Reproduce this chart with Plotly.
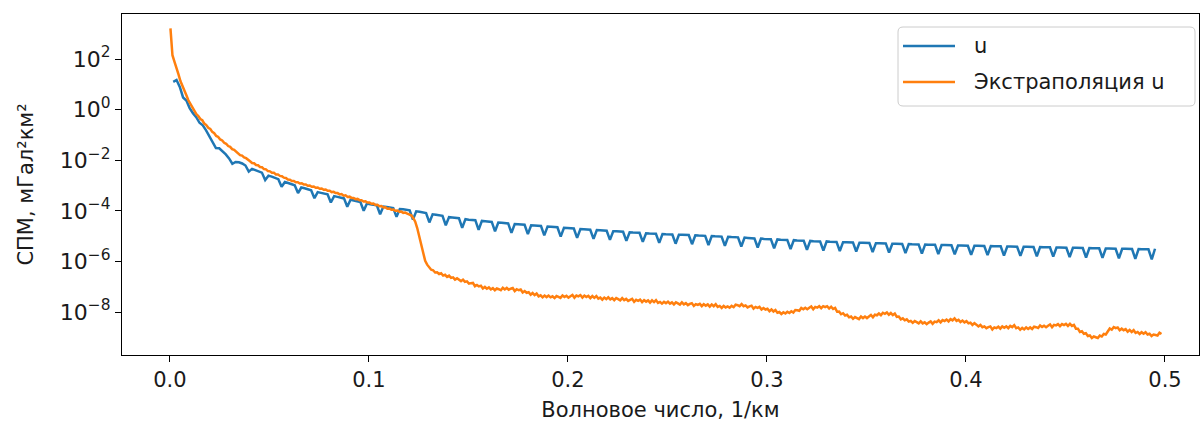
import plotly.graph_objects as go

# ---- data ----
# wavenumber grid steps (1/km)
u_step = 0.00165
extrap_start = 0.00025
extrap_step = 0.001

# log10 of spectral power density, series "u"
u_log10 = [
    1.10, 1.17, 0.90, 0.48, 0.36,
    0.06, -0.14, -0.30, -0.52, -0.62,
    -0.82, -1.05, -1.28, -1.52, -1.53,
    -1.65, -1.77, -1.93, -2.14, -2.07,
    -2.08, -2.13, -2.21, -2.45, -2.34,
    -2.39, -2.44, -2.49, -2.78, -2.61,
    -2.65, -2.70, -2.75, -3.05, -2.86,
    -2.90, -2.95, -2.99, -3.30, -3.08,
    -3.11, -3.15, -3.19, -3.50, -3.26,
    -3.29, -3.32, -3.35, -3.67, -3.42,
    -3.45, -3.48, -3.51, -3.84, -3.56,
    -3.59, -3.62, -3.65, -4.00, -3.71,
    -3.74, -3.76, -3.78, -4.14, -3.83,
    -3.85, -3.87, -3.89, -4.24, -3.93,
    -3.94, -3.96, -3.98, -4.35, -4.02,
    -4.04, -4.07, -4.09, -4.46, -4.14,
    -4.16, -4.18, -4.20, -4.57, -4.25,
    -4.26, -4.28, -4.29, -4.67, -4.33,
    -4.35, -4.36, -4.37, -4.75, -4.40,
    -4.41, -4.42, -4.44, -4.81, -4.46,
    -4.47, -4.48, -4.50, -4.87, -4.52,
    -4.53, -4.54, -4.55, -4.92, -4.57,
    -4.58, -4.59, -4.60, -4.97, -4.62,
    -4.63, -4.64, -4.65, -5.02, -4.67,
    -4.68, -4.69, -4.70, -5.07, -4.72,
    -4.73, -4.74, -4.75, -5.11, -4.76,
    -4.77, -4.78, -4.79, -5.15, -4.81,
    -4.81, -4.82, -4.83, -5.19, -4.85,
    -4.86, -4.86, -4.87, -5.23, -4.89,
    -4.90, -4.90, -4.91, -5.27, -4.92,
    -4.93, -4.93, -4.94, -5.30, -4.95,
    -4.95, -4.96, -4.96, -5.32, -4.97,
    -4.98, -4.98, -4.99, -5.35, -5.00,
    -5.01, -5.01, -5.02, -5.38, -5.03,
    -5.04, -5.04, -5.05, -5.41, -5.06,
    -5.07, -5.08, -5.09, -5.45, -5.10,
    -5.11, -5.12, -5.12, -5.48, -5.13,
    -5.14, -5.15, -5.15, -5.51, -5.16,
    -5.17, -5.18, -5.18, -5.54, -5.19,
    -5.20, -5.20, -5.21, -5.57, -5.21,
    -5.22, -5.22, -5.23, -5.59, -5.24,
    -5.24, -5.25, -5.25, -5.61, -5.26,
    -5.26, -5.27, -5.27, -5.63, -5.28,
    -5.28, -5.29, -5.29, -5.65, -5.30,
    -5.30, -5.30, -5.31, -5.67, -5.31,
    -5.32, -5.32, -5.33, -5.69, -5.33,
    -5.34, -5.34, -5.34, -5.71, -5.35,
    -5.35, -5.36, -5.36, -5.72, -5.37,
    -5.37, -5.37, -5.38, -5.74, -5.38,
    -5.38, -5.39, -5.39, -5.75, -5.39,
    -5.40, -5.40, -5.40, -5.77, -5.41,
    -5.41, -5.41, -5.42, -5.78, -5.42,
    -5.42, -5.43, -5.43, -5.80, -5.43,
    -5.44, -5.44, -5.44, -5.81, -5.45,
    -5.45, -5.45, -5.46, -5.83, -5.46,
    -5.46, -5.47, -5.47, -5.85, -5.47,
    -5.48, -5.48, -5.48, -5.86, -5.49,
    -5.49, -5.49, -5.50, -5.88, -5.50,
    -5.50, -5.51, -5.51, -5.90, -5.51,
    -5.52, -5.52, -5.52, -5.92, -5.50,
]

# log10 of spectral power density, series "Экстраполяция u"
extrap_log10 = [
    3.21, 2.15, 1.90, 1.60, 1.40, 1.13, 0.96, 0.74, 0.57, 0.37,
    0.23, 0.05, -0.04, -0.18, -0.25, -0.37, -0.42, -0.55, -0.61, -0.72,
    -0.76, -0.88, -0.93, -1.04, -1.08, -1.18, -1.22, -1.31, -1.35, -1.44,
    -1.47, -1.56, -1.59, -1.67, -1.71, -1.80, -1.82, -1.89, -1.92, -2.00,
    -2.04, -2.11, -2.12, -2.19, -2.20, -2.27, -2.28, -2.35, -2.36, -2.43,
    -2.44, -2.50, -2.50, -2.56, -2.56, -2.62, -2.63, -2.69, -2.70, -2.76,
    -2.77, -2.82, -2.82, -2.87, -2.87, -2.92, -2.91, -2.96, -2.96, -3.01,
    -3.00, -3.05, -3.04, -3.09, -3.08, -3.13, -3.12, -3.17, -3.16, -3.21,
    -3.21, -3.26, -3.25, -3.30, -3.30, -3.35, -3.34, -3.40, -3.39, -3.45,
    -3.44, -3.49, -3.49, -3.54, -3.53, -3.58, -3.58, -3.63, -3.62, -3.67,
    -3.67, -3.72, -3.71, -3.77, -3.76, -3.82, -3.81, -3.87, -3.86, -3.92,
    -3.91, -3.96, -3.95, -4.00, -3.99, -4.04, -4.03, -4.08, -4.07, -4.11,
    -4.13, -4.18, -4.28, -4.43, -4.68, -5.02, -5.42, -5.74, -5.98, -6.13,
    -6.21, -6.33, -6.35, -6.44, -6.43, -6.50, -6.47, -6.56, -6.53, -6.61,
    -6.56, -6.65, -6.63, -6.72, -6.67, -6.72, -6.78, -6.72, -6.81, -6.79,
    -6.88, -6.86, -6.85, -6.98, -6.93, -6.99, -6.96, -7.07, -7.01, -7.08,
    -7.03, -7.11, -7.06, -7.14, -7.07, -7.10, -7.14, -7.04, -7.11, -7.05,
    -7.12, -7.08, -7.05, -7.17, -7.10, -7.14, -7.11, -7.23, -7.17, -7.24,
    -7.22, -7.32, -7.25, -7.33, -7.27, -7.38, -7.34, -7.42, -7.35, -7.41,
    -7.35, -7.42, -7.38, -7.45, -7.37, -7.40, -7.44, -7.35, -7.41, -7.36,
    -7.43, -7.38, -7.33, -7.44, -7.35, -7.38, -7.33, -7.43, -7.35, -7.41,
    -7.36, -7.45, -7.37, -7.44, -7.37, -7.47, -7.43, -7.51, -7.43, -7.49,
    -7.42, -7.50, -7.45, -7.53, -7.45, -7.49, -7.54, -7.45, -7.53, -7.48,
    -7.56, -7.52, -7.48, -7.60, -7.52, -7.56, -7.51, -7.61, -7.53, -7.59,
    -7.54, -7.63, -7.54, -7.61, -7.53, -7.64, -7.60, -7.67, -7.60, -7.65,
    -7.59, -7.67, -7.62, -7.70, -7.62, -7.66, -7.71, -7.62, -7.70, -7.65,
    -7.73, -7.68, -7.65, -7.76, -7.69, -7.72, -7.68, -7.77, -7.69, -7.75,
    -7.70, -7.79, -7.70, -7.77, -7.69, -7.80, -7.76, -7.84, -7.76, -7.82,
    -7.78, -7.83, -7.76, -7.81, -7.71, -7.73, -7.77, -7.69, -7.77, -7.74,
    -7.82, -7.78, -7.75, -7.87, -7.80, -7.84, -7.80, -7.90, -7.84, -7.90,
    -7.87, -7.97, -7.90, -7.98, -7.92, -8.03, -8.00, -8.08, -8.01, -8.06,
    -7.99, -8.04, -7.97, -8.02, -7.92, -7.93, -7.95, -7.84, -7.89, -7.83,
    -7.89, -7.83, -7.78, -7.89, -7.80, -7.83, -7.77, -7.85, -7.77, -7.81,
    -7.77, -7.86, -7.79, -7.88, -7.84, -7.99, -7.98, -8.09, -8.05, -8.14,
    -8.11, -8.21, -8.18, -8.27, -8.20, -8.24, -8.28, -8.18, -8.24, -8.18,
    -8.24, -8.18, -8.12, -8.21, -8.11, -8.13, -8.06, -8.13, -8.03, -8.07,
    -8.02, -8.11, -8.04, -8.12, -8.06, -8.19, -8.18, -8.29, -8.25, -8.33,
    -8.29, -8.38, -8.35, -8.43, -8.36, -8.40, -8.45, -8.37, -8.45, -8.41,
    -8.48, -8.42, -8.37, -8.47, -8.38, -8.40, -8.33, -8.41, -8.32, -8.36,
    -8.30, -8.37, -8.28, -8.33, -8.25, -8.35, -8.31, -8.40, -8.34, -8.41,
    -8.36, -8.45, -8.42, -8.51, -8.44, -8.50, -8.57, -8.51, -8.60, -8.57,
    -8.64, -8.60, -8.57, -8.69, -8.61, -8.64, -8.58, -8.66, -8.57, -8.62,
    -8.57, -8.64, -8.55, -8.60, -8.52, -8.64, -8.61, -8.70, -8.63, -8.69,
    -8.61, -8.67, -8.61, -8.67, -8.58, -8.60, -8.63, -8.53, -8.59, -8.54,
    -8.60, -8.54, -8.49, -8.60, -8.51, -8.53, -8.48, -8.56, -8.48, -8.52,
    -8.47, -8.55, -8.47, -8.55, -8.51, -8.66, -8.66, -8.79, -8.76, -8.86,
    -8.84, -8.95, -8.93, -9.03, -8.97, -9.00, -9.03, -8.93, -8.97, -8.87,
    -8.89, -8.77, -8.65, -8.70, -8.60, -8.64, -8.61, -8.72, -8.66, -8.72,
    -8.68, -8.78, -8.71, -8.79, -8.72, -8.83, -8.79, -8.87, -8.80, -8.86,
    -8.80, -8.89, -8.86, -8.95, -8.89, -8.91, -8.93, -8.82, -8.87,
]

series_names = ["u", "Экстраполяция u"]
series_colors = ["#1f77b4", "#ff7f0e"]

x_tick_vals = [0.0, 0.1, 0.2, 0.3, 0.4, 0.5]
x_tick_text = ["0.0", "0.1", "0.2", "0.3", "0.4", "0.5"]
y_tick_vals = [1e2, 1e0, 1e-2, 1e-4, 1e-6, 1e-8]
y_tick_text = ["10<sup>2</sup>", "10<sup>0</sup>", "10<sup>−2</sup>",
               "10<sup>−4</sup>", "10<sup>−6</sup>", "10<sup>−8</sup>"]

x_title = "Волновое число, 1/км"
y_title = "СПМ, мГал²км²"

# ---- layout geometry (pixels) ----
W, H = 1200, 425
L, R, T, B = 122, 1, 14, 70
PW, PH = W - L - R, H - T - B


def px(x):
    return (x - L) / PW


def py(y):
    return (H - B - y) / PH


# ---- build ----
u_k = [u_step * (i + 1) for i in range(len(u_log10))]
u_val = [10 ** v for v in u_log10]
ex_k = [extrap_start + extrap_step * i for i in range(len(extrap_log10))]
ex_val = [10 ** v for v in extrap_log10]

FONT = "DejaVu Sans"
FS = 21
TXT = "#1a1a1a"

fig = go.Figure()
fig.add_trace(go.Scatter(x=u_k, y=u_val, mode="lines", name=series_names[0],
                         showlegend=False,
                         line=dict(color=series_colors[0], width=2.5)))
fig.add_trace(go.Scatter(x=ex_k, y=ex_val, mode="lines", name=series_names[1],
                         showlegend=False,
                         line=dict(color=series_colors[1], width=2.5)))

axis_common = dict(
    showline=True, linecolor="black", linewidth=1.2, mirror=True,
    ticks="outside", ticklen=6, tickwidth=1.2, tickcolor="black",
    showgrid=False, zeroline=False,
)

# legend drawn as a rounded box with line samples and labels
bx0, bx1, by0, by1, rad = 898, 1195, 27, 106, 5
rx, ry = rad / PW, rad / PH
X0, X1, Y0, Y1 = px(bx0), px(bx1), py(by1), py(by0)
box_path = (f"M{X0 + rx},{Y0} L{X1 - rx},{Y0} Q{X1},{Y0} {X1},{Y0 + ry} "
            f"L{X1},{Y1 - ry} Q{X1},{Y1} {X1 - rx},{Y1} "
            f"L{X0 + rx},{Y1} Q{X0},{Y1} {X0},{Y1 - ry} "
            f"L{X0},{Y0 + ry} Q{X0},{Y0} {X0 + rx},{Y0} Z")
shapes = [dict(type="path", path=box_path, xref="paper", yref="paper",
               line=dict(color="#cccccc", width=1), fillcolor="rgba(255,255,255,0.8)",
               layer="above")]
annotations = []
row_y = [46, 82]
for name, color, ry_px in zip(series_names, series_colors, row_y):
    shapes.append(dict(type="line", xref="paper", yref="paper",
                       x0=px(903), x1=px(955), y0=py(ry_px), y1=py(ry_px),
                       line=dict(color=color, width=2.5), layer="above"))
    annotations.append(dict(text=name, xref="paper", yref="paper",
                            x=px(972), y=py(ry_px), xanchor="left", yanchor="middle",
                            showarrow=False,
                            font=dict(family=FONT, size=FS, color=TXT)))

fig.update_layout(
    width=W, height=H,
    margin=dict(l=L, r=R, t=T, b=B),
    paper_bgcolor="white", plot_bgcolor="white",
    font=dict(family=FONT, size=FS, color=TXT),
    showlegend=False,
    shapes=shapes,
    annotations=annotations,
    xaxis=dict(range=[-0.0241, 0.5171], tickvals=x_tick_vals, ticktext=x_tick_text,
               tickfont=dict(family=FONT, size=FS, color=TXT),
               title=dict(text=x_title, font=dict(family=FONT, size=FS, color=TXT),
                          standoff=11),
               **axis_common),
    yaxis=dict(type="log", range=[-9.70, 3.78], tickvals=y_tick_vals, ticktext=y_tick_text,
               tickfont=dict(family=FONT, size=22, color=TXT),
               title=dict(text=y_title, font=dict(family=FONT, size=FS, color=TXT),
                          standoff=20),
               **axis_common),
)

fig.write_html("out.html")
